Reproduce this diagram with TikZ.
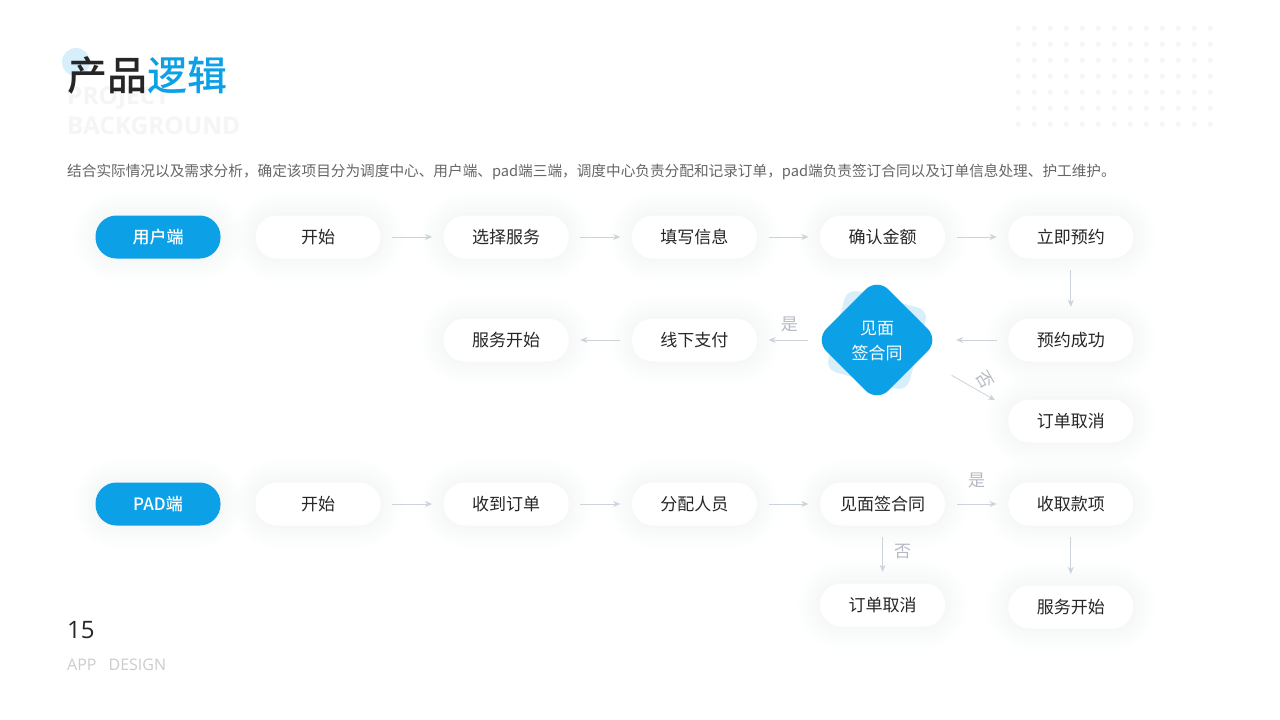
\documentclass[tikz,border=0pt]{standalone}
\usepackage{fontspec}
\setmainfont{Noto Sans CJK SC}
\newfontfamily\mediumfont{Noto Sans CJK SC Medium}
\newfontfamily\latinfont{Open Sans}
\usetikzlibrary{positioning, arrows.meta, shapes.geometric}
\definecolor{mainblue}{HTML}{0CA0E7}
\definecolor{paleblue}{HTML}{D6EFFB}
\definecolor{linegray}{HTML}{CDD3DA}
\definecolor{labgray}{HTML}{B4B9C4}
\definecolor{ghostgray}{HTML}{F5F5F5}
\definecolor{shadowc}{HTML}{7F90B5}
\tikzset{
    softshadow/.style={
        preaction={draw=shadowc, draw opacity=.007, line width=44pt},
        preaction={draw=shadowc, draw opacity=.007, line width=38pt},
        preaction={draw=shadowc, draw opacity=.007, line width=32pt},
        preaction={draw=shadowc, draw opacity=.007, line width=26pt},
        preaction={draw=shadowc, draw opacity=.007, line width=20pt},
        preaction={draw=shadowc, draw opacity=.007, line width=14pt},
        preaction={draw=shadowc, draw opacity=.007, line width=8pt},
        preaction={draw=shadowc, draw opacity=.007, line width=4pt}},
    pill/.style={softshadow, rectangle, rounded corners=21pt, fill=white, text=black!85,
        minimum width=125pt, minimum height=43pt, inner sep=0pt, font=\fontsize{17}{20}\selectfont},
    tag/.style={pill, fill=mainblue, text=white, font=\mediumfont\fontsize{17}{20}\selectfont},
    lab/.style={text=labgray, font=\fontsize{17}{19}\selectfont, inner sep=0pt}
}
\begin{document}
\begin{tikzpicture}[x=1pt, y=1pt, node distance=188.2pt, on grid]
            \useasboundingbox[fill=white] (0,0) rectangle (1280,-720);

            % dots, top right
            \foreach \i in {0,...,12}
                \foreach \j in {0,...,6}
                    \fill[ghostgray] (1018.3+16*\i,-28.3-16*\j) circle (2.5);

            % heading
            \fill[paleblue] (76,-62) circle (14);
            \node[anchor=west, inner sep=0pt, align=left, text=ghostgray, font=\latinfont\bfseries\fontsize{24.4}{30}\selectfont] (ghost) at (67,-111) {PROJECT\\BACKGROUND};
            \node[anchor=west, inner sep=0pt, text=black!85, font=\mediumfont\fontsize{40}{44}\selectfont] (title) at (67,-75) {产品\textcolor{mainblue}{逻辑}};
            \node[anchor=west, inner sep=0pt, text=black!60, font=\fontsize{14.65}{18}\selectfont] (intro) at (67,-172) {结合实际情况以及需求分析，确定该项目分为调度中心、用户端、pad端三端，调度中心负责分配和记录订单，pad端负责签订合同以及订单信息处理、护工维护。};

            % user row
            \node[tag] (ut) at (158,-237) {用户端};
            \node[pill] (u1) at (318,-237) {开始};
            \node[pill, right of=u1] (u2) {选择服务};
            \node[pill, right of=u2] (u3) {填写信息};
            \node[pill, right of=u3] (u4) {确认金额};
            \node[pill, right of=u4] (u5) {立即预约};
            \node[pill, below of=u5, node distance=103pt] (u6) {预约成功};
            \node[pill, below of=u6, node distance=81pt] (u7) {订单取消};
            \node[pill, below of=u3, node distance=103pt] (u8) {线下支付};
            \node[pill, left of=u8] (u9) {服务开始};

            % decision
            \node[rectangle, rounded corners=11pt, fill=paleblue, rotate=-15, minimum size=84pt] (back) at (877,-340) {};
            \node[diamond, aspect=1, rounded corners=16pt, fill=mainblue, text=white, minimum size=124pt, inner sep=0pt, align=center,
                font=\fontsize{17}{25}\selectfont] (meet) at (877,-340) {\rule{0pt}{15pt}见面\\签合同};

            % pad row
            \node[tag] (pt) at (158,-504) {PAD端};
            \node[pill] (p1) at (318,-504) {开始};
            \node[pill, right of=p1] (p2) {收到订单};
            \node[pill, right of=p2] (p3) {分配人员};
            \node[pill, right of=p3] (p4) {见面签合同};
            \node[pill, right of=p4] (p5) {收取款项};
            \node[pill, below of=p4, node distance=101pt] (p6) {订单取消};
            \node[pill, below of=p5, node distance=103pt] (p7) {服务开始};

            \path[-{Stealth[length=7pt,width=6pt]}, linegray, line width=.8pt, shorten >=11.5pt, shorten <=11.5pt]
            (u1) edge (u2)
            (u2) edge (u3)
            (u3) edge (u4)
            (u4) edge (u5)
            (u5) edge (u6)
            (u6) edge[shorten >=17pt] (meet)
            (meet) edge[shorten <=7pt] node[lab, pos=.44, above=8pt]{是} (u8)
            (u8) edge (u9)
            (meet.-22) edge[shorten <=35pt, shorten >=15pt] node[lab, pos=.62, rotate=-60, above right=13pt and -1pt]{否} (u7.168)
            (p1) edge (p2)
            (p2) edge (p3)
            (p3) edge (p4)
            (p4) edge node[lab, above=16pt]{是} (p5)
            (p4) edge node[lab, pos=.45, right=11pt]{否} (p6)
            (p5) edge (p7);

            % page foot
            \node[anchor=west, inner sep=0pt, text=black!85, font=\latinfont\fontsize{24}{28}\selectfont] (page) at (67,-630) {15};
            \node[anchor=west, inner sep=0pt, text=black!20, font=\latinfont\fontsize{16}{18}\selectfont] (foot) at (67,-665) {APP\hspace{12pt}DESIGN};
\end{tikzpicture}
\end{document}
